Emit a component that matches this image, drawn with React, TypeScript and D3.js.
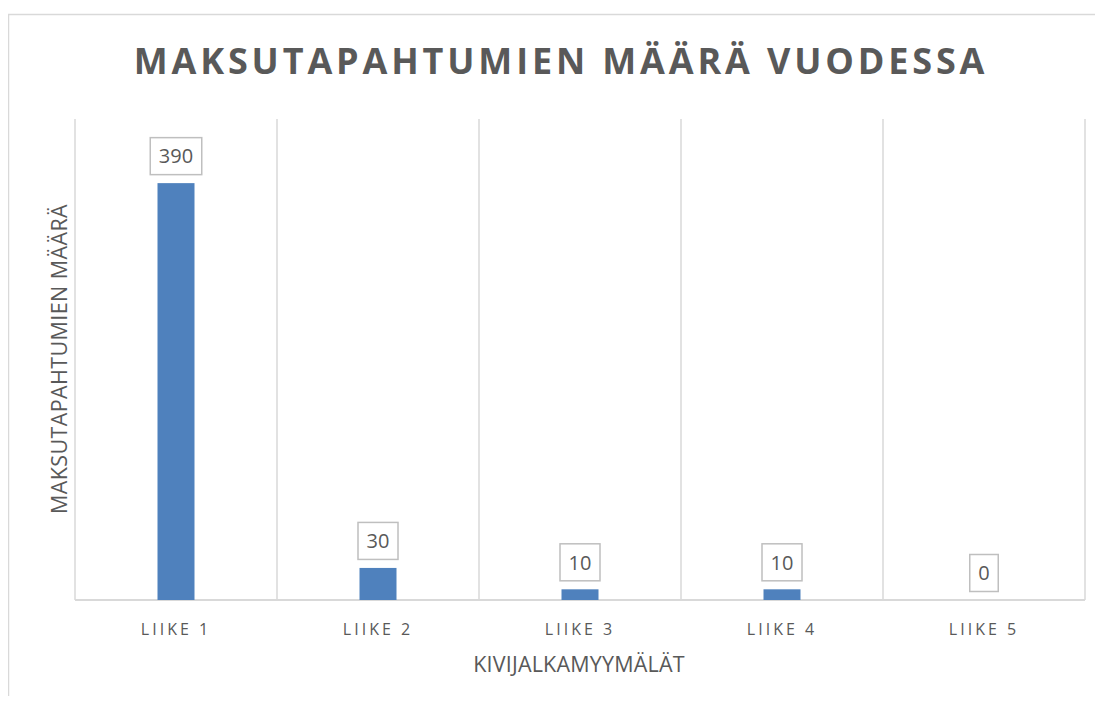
import React, { useEffect, useRef } from "react";
import * as d3 from "d3";

// chart data
const categories = ["Liike 1", "Liike 2", "Liike 3", "Liike 4", "Liike 5"];
const values = [390, 30, 10, 10, 0];
const yMax = 450;

const title = "MAKSUTAPAHTUMIEN MÄÄRÄ VUODESSA";
const xTitle = "KIVIJALKAMYYMÄLÄT";
const yTitle = "MAKSUTAPAHTUMIEN MÄÄRÄ";

const App = () => {
  const svgRef = useRef<SVGSVGElement>(null);

  useEffect(() => {
    const width = 1103;
    const height = 704;
    const margin = { top: 119, right: 18, bottom: 104, left: 75 };
    const font = "'Open Sans', sans-serif";
    const textColor = "#595959";
    const gridColor = "#d9d9d9";

    const svg = d3.select(svgRef.current);
    svg.selectAll("*").remove();
    svg.attr("width", width).attr("height", height);

    svg
      .append("rect")
      .attr("width", width)
      .attr("height", height)
      .attr("fill", "#ffffff");

    // outer chart border (runs off the page)
    svg
      .append("rect")
      .attr("x", 8.5)
      .attr("y", 14.5)
      .attr("width", width + 20)
      .attr("height", height + 20)
      .attr("fill", "none")
      .attr("stroke", gridColor)
      .attr("stroke-width", 1.5);

    const innerW = width - margin.left - margin.right;
    const innerH = height - margin.top - margin.bottom;

    const x = d3.scaleBand().domain(categories).range([0, innerW]);
    const y = d3.scaleLinear().domain([0, yMax]).range([innerH, 0]);

    const g = svg
      .append("g")
      .attr("transform", `translate(${margin.left},${margin.top})`);

    // vertical gridlines between categories
    const edges = categories.map((c) => x(c)!).concat([innerW]);
    g.selectAll(".vgrid")
      .data(edges)
      .enter()
      .append("line")
      .attr("x1", (d) => d)
      .attr("x2", (d) => d)
      .attr("y1", 0)
      .attr("y2", innerH)
      .attr("stroke", gridColor)
      .attr("stroke-width", 1.5);

    // baseline
    g.append("line")
      .attr("x1", 0)
      .attr("x2", innerW)
      .attr("y1", innerH)
      .attr("y2", innerH)
      .attr("stroke", gridColor)
      .attr("stroke-width", 2);

    const barW = 37;
    const data = categories.map((c, i) => ({ c, v: values[i] }));

    g.selectAll(".bar")
      .data(data)
      .enter()
      .append("rect")
      .attr("x", (d) => x(d.c)! + x.bandwidth() / 2 - barW / 2)
      .attr("y", (d) => y(d.v))
      .attr("width", barW)
      .attr("height", (d) => innerH - y(d.v))
      .attr("fill", "#4f81bd");

    // data labels with boxes
    const labels = g
      .selectAll(".lbl")
      .data(data)
      .enter()
      .append("g")
      .attr(
        "transform",
        (d) => `translate(${x(d.c)! + x.bandwidth() / 2},${y(d.v) - 27})`
      );

    labels
      .append("rect")
      .attr("x", (d) => -(String(d.v).length * 11.5 + 17) / 2)
      .attr("y", -18.5)
      .attr("width", (d) => String(d.v).length * 11.5 + 17)
      .attr("height", 37)
      .attr("fill", "#ffffff")
      .attr("stroke", "#bfbfbf")
      .attr("stroke-width", 1.5);

    labels
      .append("text")
      .attr("text-anchor", "middle")
      .attr("dy", "0.36em")
      .style("font-family", font)
      .style("font-size", "20px")
      .style("fill", textColor)
      .text((d) => d.v);

    // category labels
    g.selectAll(".tick")
      .data(categories)
      .enter()
      .append("text")
      .attr("x", (d) => x(d)! + x.bandwidth() / 2)
      .attr("y", innerH + 35)
      .attr("text-anchor", "middle")
      .style("font-family", font)
      .style("font-size", "16px")
      .style("letter-spacing", "3px")
      .style("fill", textColor)
      .text((d) => d.toUpperCase());

    // title
    svg
      .append("text")
      .attr("x", 561)
      .attr("y", 74)
      .attr("text-anchor", "middle")
      .style("font-family", font)
      .style("font-size", "36px")
      .style("font-weight", "bold")
      .style("letter-spacing", "3.85px")
      .style("fill", textColor)
      .text(title);

    // x axis title
    svg
      .append("text")
      .attr("x", margin.left + innerW / 2 - 1)
      .attr("y", 672)
      .attr("text-anchor", "middle")
      .style("font-family", font)
      .style("font-size", "21.5px")
      .style("letter-spacing", "0.2px")
      .style("fill", textColor)
      .text(xTitle);

    // y axis title
    svg
      .append("text")
      .attr("transform", `translate(67,${359}) rotate(-90)`)
      .attr("text-anchor", "middle")
      .style("font-family", font)
      .style("font-size", "21.5px")
      .style("letter-spacing", "0.4px")
      .style("fill", textColor)
      .text(yTitle);
  }, []);

  return (
    <div style={{ margin: -8 }}>
      <svg ref={svgRef} style={{ display: "block" }} />
    </div>
  );
};

export default App;
